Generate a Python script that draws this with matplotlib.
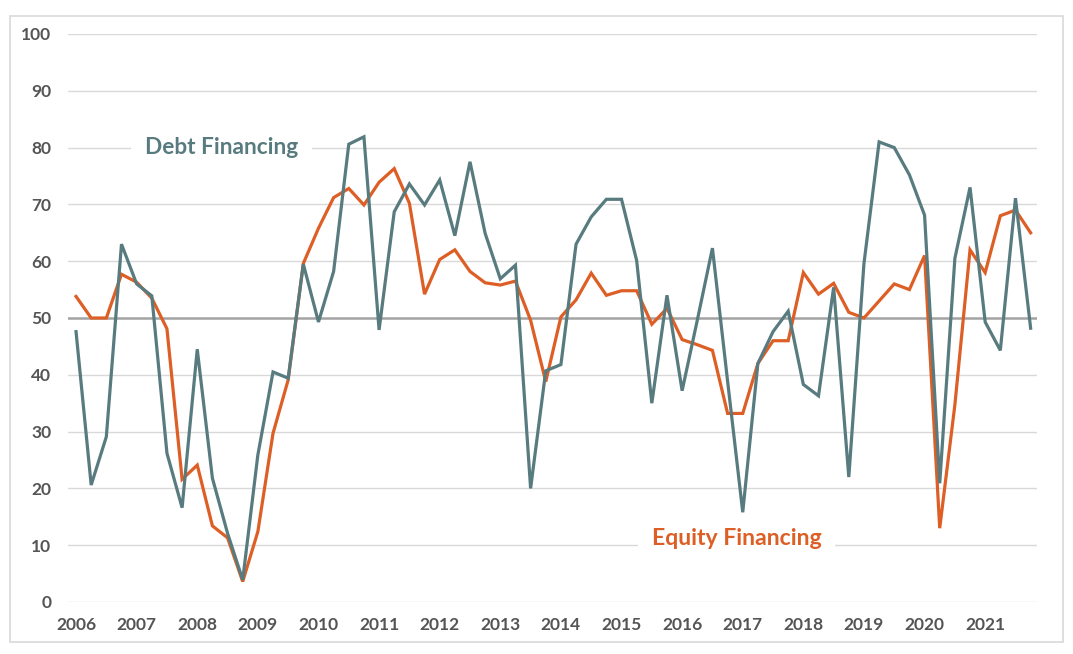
import matplotlib
matplotlib.use("Agg")
import matplotlib.pyplot as plt
from matplotlib.patches import Rectangle

years = [str(y) for y in range(2006, 2022)]

debt = [47.6, 20.6, 29.1, 63.0, 56.0, 53.9, 26.2, 16.6, 44.5, 21.8, 12.1, 3.9,
        25.9, 40.5, 39.4, 59.5, 49.3, 58.2, 80.6, 81.9, 47.9, 68.7, 73.6, 69.9,
        74.3, 64.5, 77.5, 64.9, 56.9, 59.3, 20.0, 40.7, 41.8, 63.0, 67.8, 70.9,
        70.9, 60.1, 35.0, 54.0, 37.2, 49.6, 62.3, 38.9, 15.8, 42.0, 47.6, 51.2,
        38.3, 36.3, 55.4, 22.0, 59.6, 81.0, 80.0, 75.2, 68.1, 20.9, 60.5, 73.0,
        49.3, 44.3, 71.1, 48.2]

equity = [53.8, 50.0, 50.0, 57.7, 56.3, 53.5, 48.1, 21.6, 24.1, 13.4, 11.3, 3.6,
          12.4, 29.7, 39.1, 59.6, 65.8, 71.2, 72.8, 69.9, 73.9, 76.3, 70.2, 54.2,
          60.3, 62.0, 58.2, 56.2, 55.8, 56.5, 49.6, 38.8, 50.2, 53.2, 57.9, 54.0,
          54.8, 54.8, 48.9, 51.7, 46.2, 45.3, 44.3, 33.2, 33.2, 42.0, 46.0, 46.0,
          58.0, 54.2, 56.1, 51.0, 50.0, 53.0, 56.0, 55.0, 61.0, 13.0, 34.7, 62.0,
          58.0, 68.0, 69.0, 65.0]

debt_color = "#587b7f"
equity_color = "#dd5f26"
tick_color = "#555555"

plt.rcParams['font.family'] = ['Lato', 'DejaVu Sans']

fig = plt.figure(figsize=(10.73, 6.54), dpi=100)
W, H = 1073, 654
ax = fig.add_axes([68 / W, (H - 602) / H, (1037 - 68) / W, (602 - 34) / H])

# outer border
fig.patches.append(Rectangle((10 / W, (H - 642) / H), (1063 - 10) / W, (642 - 16) / H,
                             transform=fig.transFigure, fill=False,
                             edgecolor="#d9d9d9", linewidth=1.2))

x = list(range(len(debt)))
ax.set_xlim(-0.53, len(debt) - 1 + 0.42)
ax.set_ylim(0, 100)

yt = list(range(0, 101, 10))
for v in yt:
    if v != 50:
        ax.axhline(v, color="#d9d9d9", linewidth=1.0, zorder=1)
ax.axhline(50, color="#a3a3a3", linewidth=1.8, zorder=2)

ax.plot(x, debt, color=debt_color, linewidth=2.3, zorder=4, solid_joinstyle='miter')
ax.plot(x, equity, color=equity_color, linewidth=2.3, zorder=3, solid_joinstyle='miter')

ax.tick_params(axis='both', length=0, labelsize=12.5, colors=tick_color)
ax.tick_params(axis='y', pad=12)
ax.tick_params(axis='x', pad=11)
ax.set_yticks(yt)
ax.set_yticklabels([str(v) for v in yt], fontweight='bold', fontsize=12.5, color=tick_color)
ax.set_xticks(list(range(0, len(debt), 4)))
ax.set_xticklabels(years, fontweight='bold', fontsize=12.5, color=tick_color)

for s in ax.spines.values():
    s.set_visible(False)

ax.text(4.55, 78.9, "Debt Financing", color=debt_color, fontsize=16.3,
        fontweight='bold', ha='left', va='baseline', zorder=5,
        bbox=dict(boxstyle='square,pad=0.6', facecolor='white', edgecolor='none'))
ax.text(38.0, 10.0, "Equity Financing", color=equity_color, fontsize=16.6,
        fontweight='bold', ha='left', va='baseline', zorder=5,
        bbox=dict(boxstyle='square,pad=0.6', facecolor='white', edgecolor='none'))

fig.savefig("out.png", dpi=100)
